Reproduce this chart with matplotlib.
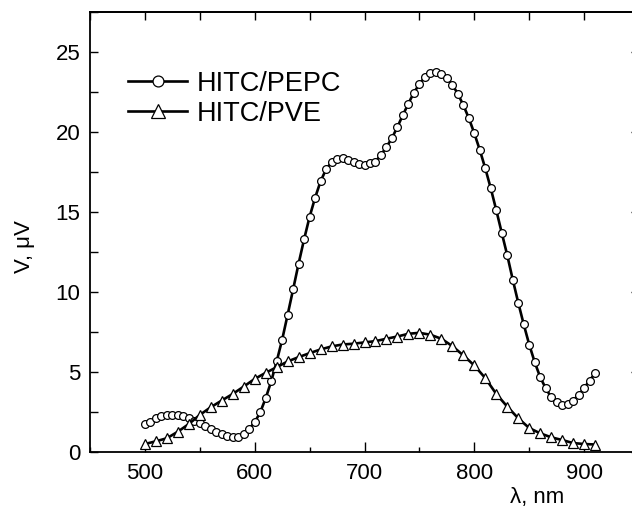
import numpy as np
import matplotlib
matplotlib.use("Agg")
import matplotlib.pyplot as plt
from matplotlib.ticker import MultipleLocator

# Datos (longitud de onda en nm, senal en uV)
lam_pepc = np.arange(500, 911, 5)
v_pepc = [1.73, 1.88, 2.09, 2.21, 2.28, 2.30, 2.30, 2.23, 2.09, 1.94,
          1.77, 1.59, 1.42, 1.25, 1.11, 0.98, 0.90, 0.94, 1.11, 1.42,
          1.84, 2.46, 3.34, 4.39, 5.64, 7.00, 8.56, 10.15, 11.76, 13.28,
          14.68, 15.87, 16.90, 17.65, 18.09, 18.30, 18.34, 18.23, 18.09, 17.96,
          17.92, 18.03, 18.13, 18.55, 19.05, 19.60, 20.30, 21.05, 21.76, 22.45,
          22.97, 23.41, 23.66, 23.75, 23.62, 23.35, 22.93, 22.37, 21.66, 20.85,
          19.90, 18.86, 17.71, 16.46, 15.10, 13.68, 12.28, 10.76, 9.32, 7.96,
          6.70, 5.60, 4.66, 3.97, 3.40, 3.09, 2.94, 2.99, 3.20, 3.55,
          3.97, 4.45, 4.90]

lam_pve = np.arange(500, 911, 10)
v_pve = [0.48, 0.65, 0.84, 1.25, 1.73, 2.30, 2.78, 3.20, 3.61, 4.07,
         4.55, 4.93, 5.28, 5.64, 5.91, 6.16, 6.39, 6.58, 6.70, 6.75,
         6.83, 6.91, 7.06, 7.20, 7.37, 7.43, 7.31, 7.06, 6.60, 6.02,
         5.39, 4.60, 3.61, 2.82, 2.09, 1.48, 1.15, 0.90, 0.73, 0.54,
         0.48, 0.45]

etiquetas = ["HITC/PEPC", "HITC/PVE"]

plt.rcParams['font.family'] = ['Liberation Sans', 'DejaVu Sans']

fig = plt.figure(figsize=(6.32, 5.07), dpi=100)
ax = fig.add_axes([90 / 632, (507 - 451.7) / 507, 549 / 632, 440 / 507])

ax.plot(lam_pepc, v_pepc, color='black', lw=1.9, marker='o', ms=5.6,
        mfc='white', mec='black', mew=0.9, label=etiquetas[0])
ax.plot(lam_pve, v_pve, color='black', lw=1.9, marker='^', ms=7,
        mfc='white', mec='black', mew=0.9, label=etiquetas[1])

ax.set_xlim(450, 950)
ax.set_ylim(0, 27.5)

ax.xaxis.set_major_locator(MultipleLocator(100))
ax.xaxis.set_minor_locator(MultipleLocator(50))
ax.yaxis.set_major_locator(MultipleLocator(5))
ax.yaxis.set_minor_locator(MultipleLocator(2.5))
ax.tick_params(axis='x', which='major', direction='in', length=7, width=1,
               labelsize=16, pad=8, top=False)
ax.tick_params(axis='x', which='minor', direction='in', length=3.5, width=1, top=False)
ax.tick_params(axis='y', which='major', direction='in', length=6, width=1,
               labelsize=16, pad=7, right=True)
ax.tick_params(axis='y', which='minor', direction='in', length=6, width=1, right=False)

# eje superior con marcas cada 50 nm, sin etiquetas
top = ax.secondary_xaxis('top')
top.xaxis.set_major_locator(MultipleLocator(50))
top.tick_params(direction='in', length=6, width=1, labeltop=False)

for s in ax.spines.values():
    s.set_linewidth(1.3)
top.spines['top'].set_linewidth(1.3)

ax.set_ylabel("V, μV", fontsize=16)
ax.yaxis.set_label_coords(-0.101, 0.467)
fig.text(537 / 632, 1 - 497 / 507, "λ, nm", fontsize=16, ha='center', va='center')

ax.legend(loc='upper left', bbox_to_anchor=(0.069, 0.866), frameon=False,
          fontsize=19.5, handlelength=2.2, handletextpad=0.33,
          labelspacing=0.15, borderpad=0, borderaxespad=0, markerscale=1.4)

fig.savefig("out.png", dpi=100)
